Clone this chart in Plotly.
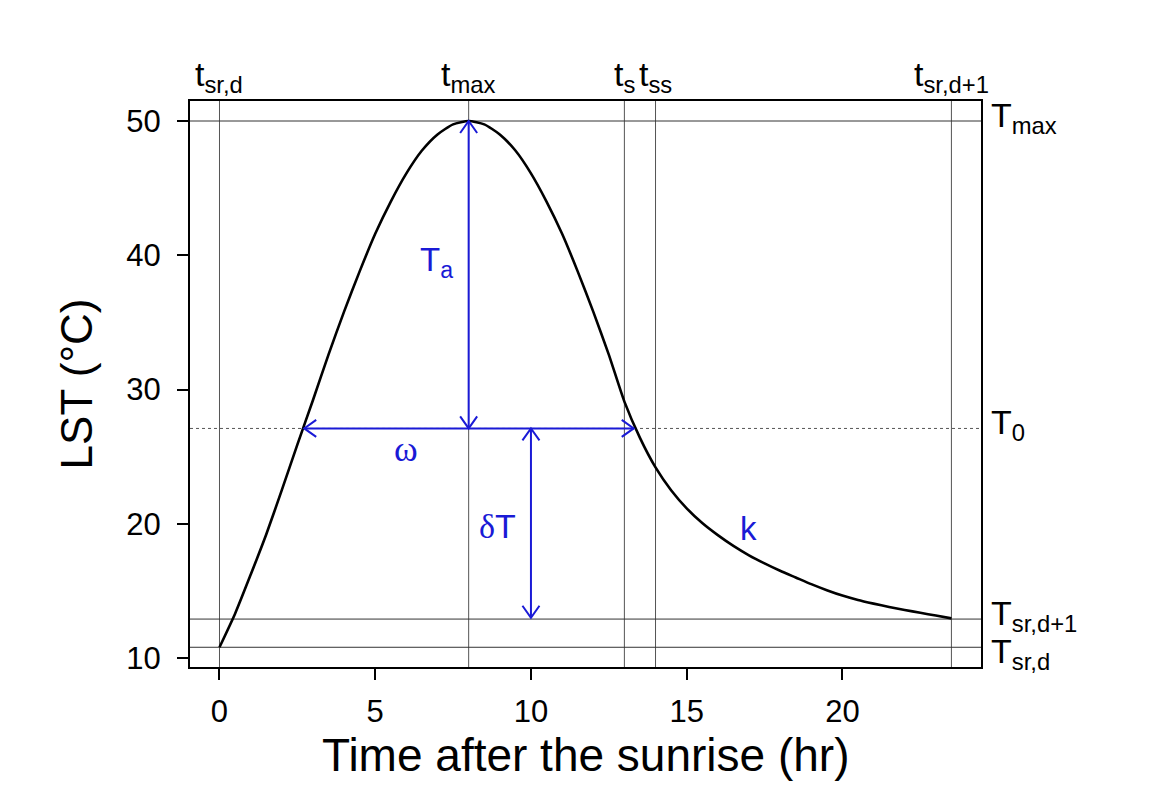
import plotly.graph_objects as go

# ---- data ----
t_hours = [0, 0.5, 1, 1.5, 2, 2.5, 3, 3.5, 4, 4.5, 5, 5.5, 6, 6.5, 7, 7.5,
           8, 8.5, 9, 9.5, 10, 10.5, 11, 11.5, 12, 12.5, 13, 13.5, 14, 14.5,
           15, 15.5, 16, 16.5, 17, 17.5, 18, 18.5, 19, 19.5, 20, 20.5, 21,
           21.5, 22, 22.5, 23, 23.5]
lst = [10.8, 13.3, 16.2, 19.2, 22.5, 25.9, 29.2, 32.6, 35.8, 38.8, 41.6, 44.0,
       46.1, 47.8, 49.0, 49.75, 50.0, 49.75, 49.0, 47.8, 46.1, 44.0, 41.6, 38.8,
       35.8, 32.6, 29.1, 26.4, 24.2, 22.5, 21.15, 20.05, 19.15, 18.35, 17.65,
       17.05, 16.5, 16.0, 15.5, 15.05, 14.65, 14.32, 14.05, 13.8, 13.58, 13.37,
       13.16, 12.95]

# key times (hr) and temperatures (deg C)
t_sr_d, t_max, t_s, t_ss, t_sr_d1 = 0, 8, 13, 14, 23.5
T_max, T_0, T_sr_d1, T_sr_d = 50, 27.1, 12.9, 10.8
omega_left, omega_right = 2.72, 13.3
dT_x, dT_bottom = 10, 13.0

x_ticks = [0, 5, 10, 15, 20]
y_ticks = [10, 20, 30, 40, 50]
x_title = "Time after the sunrise (hr)"
y_title = "LST (°C)"

top_labels = [(t_sr_d, "t<sub>sr,d</sub>"), (t_max, "t<sub>max</sub>"),
              (t_s, "t<sub>s</sub>"), (t_ss, "t<sub>ss</sub>"),
              (t_sr_d1, "t<sub>sr,d+1</sub>")]
right_labels = [(T_max, "T<sub>max</sub>", 4), (T_0, "T<sub>0</sub>", 4),
                (T_sr_d1, "T<sub>sr,d+1</sub>", 4), (T_sr_d, "T<sub>sr,d</sub>", -6)]

BLUE = "#1a1ad6"
FONT = "Liberation Sans, Arial, sans-serif"

fig = go.Figure()
fig.add_trace(go.Scatter(x=t_hours, y=lst, mode="lines",
                         line=dict(color="black", width=2.6, shape="spline", smoothing=0.6),
                         showlegend=False, hoverinfo="skip"))

shapes = []
# vertical reference lines
for tv in [t_sr_d, t_max, t_s, t_ss, t_sr_d1]:
    shapes.append(dict(type="line", xref="x", yref="paper", x0=tv, x1=tv, y0=0, y1=1,
                       line=dict(color="#555555", width=1), layer="below"))
# horizontal reference lines
for Tv in [T_max, T_sr_d1, T_sr_d]:
    shapes.append(dict(type="line", xref="paper", yref="y", x0=0, x1=1, y0=Tv, y1=Tv,
                       line=dict(color="#333333", width=1), layer="below"))
shapes.append(dict(type="line", xref="paper", yref="y", x0=0, x1=1, y0=T_0, y1=T_0,
                   line=dict(color="#555555", width=1, dash="3px,3px"), layer="below"))

# blue arrow shafts
arrow_line = dict(color=BLUE, width=2)
shapes.append(dict(type="line", xref="x", yref="y", x0=t_max, x1=t_max, y0=T_0, y1=T_max, line=arrow_line))
shapes.append(dict(type="line", xref="x", yref="y", x0=omega_left, x1=omega_right, y0=T_0, y1=T_0, line=arrow_line))
shapes.append(dict(type="line", xref="x", yref="y", x0=dT_x, x1=dT_x, y0=dT_bottom, y1=T_0, line=arrow_line))

# chevron arrow heads (pixel-sized, anchored at the tips)
def head(xa, ya, direction):
    L, W = 12, 8.5
    paths = {
        "up": f"M{-W},{-L} L0,0 L{W},{-L}",
        "down": f"M{-W},{L} L0,0 L{W},{L}",
        "left": f"M{L},{W} L0,0 L{L},{-W}",
        "right": f"M{-L},{W} L0,0 L{-L},{-W}",
    }
    return dict(type="path", xref="x", yref="y", xsizemode="pixel", ysizemode="pixel",
                xanchor=xa, yanchor=ya, path=paths[direction], line=arrow_line)

shapes += [head(t_max, T_max, "up"), head(t_max, T_0, "down"),
           head(omega_left, T_0, "left"), head(omega_right, T_0, "right"),
           head(dT_x, T_0, "up"), head(dT_x, dT_bottom, "down")]

annotations = []
for tv, txt in top_labels:
    annotations.append(dict(x=tv, y=1, xref="x", yref="paper", text=txt, showarrow=False,
                            xanchor="center", yanchor="bottom", yshift=1,
                            font=dict(size=34, color="black", family=FONT)))
for Tv, txt, ys in right_labels:
    annotations.append(dict(x=1, y=Tv, xref="paper", yref="y", text=txt, showarrow=False,
                            xanchor="left", yanchor="middle", xshift=8, yshift=ys,
                            font=dict(size=34, color="black", family=FONT)))

annotations += [
    dict(x=6.98, y=39.8, text="T<sub>a</sub>", showarrow=False, xanchor="center", yanchor="middle",
         yshift=-4, font=dict(size=33, color=BLUE, family=FONT)),
    dict(x=5.99, y=25.6, text="ω", showarrow=False, xanchor="center", yanchor="middle",
         font=dict(size=36, color=BLUE, family="Liberation Serif, serif")),
    dict(x=8.94, y=19.83, text="<span style='font-family:Liberation Serif'>δ</span>T",
         showarrow=False, xanchor="center", yanchor="middle",
         font=dict(size=34, color=BLUE, family=FONT)),
    dict(x=16.97, y=19.68, text="k", showarrow=False, xanchor="center", yanchor="middle",
         font=dict(size=33, color=BLUE, family=FONT)),
    # x-axis title
    dict(x=0.5, y=0, xref="paper", yref="paper", text=x_title, showarrow=False,
         xanchor="center", yanchor="top", yshift=-60,
         font=dict(size=46, color="black", family=FONT)),
]

fig.update_layout(
    width=1143, height=785,
    margin=dict(l=182, r=170, t=93, b=126),
    plot_bgcolor="white", paper_bgcolor="white",
    shapes=shapes, annotations=annotations,
    font=dict(family=FONT, color="black"),
    xaxis=dict(range=[-0.947, 24.45], tickmode="array", tickvals=x_ticks,
               ticks="outside", ticklen=11, tickwidth=1.5, tickcolor="black",
               showline=True, linecolor="black", linewidth=2, mirror=True,
               showgrid=False, zeroline=False, tickfont=dict(size=31),
               ticklabelstandoff=5),
    yaxis=dict(range=[9.33, 51.49], tickmode="array", tickvals=y_ticks,
               ticks="outside", ticklen=11, tickwidth=1.5, tickcolor="black",
               showline=True, linecolor="black", linewidth=2, mirror=True,
               showgrid=False, zeroline=False, tickfont=dict(size=31),
               ticklabelstandoff=10,
               title=dict(text=y_title, font=dict(size=44), standoff=20)),
)

fig.write_html("out.html")
